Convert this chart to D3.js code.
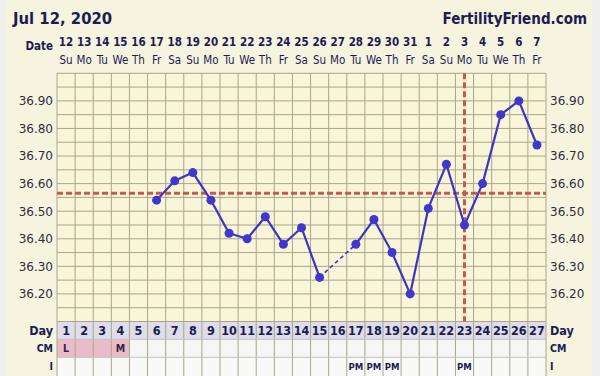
<!DOCTYPE html>
<html><head><meta charset="utf-8">
<script src="https://cdn.jsdelivr.net/npm/d3@7"></script>
<style>
html,body{margin:0;padding:0;background:#eeeeee;}
svg{display:block;}
</style></head>
<body>
<svg id="c" width="600" height="376"></svg>
<script>
const title = "Jul 12, 2020";
const brand = "FertilityFriend.com";
const dates = [12,13,14,15,16,17,18,19,20,21,22,23,24,25,26,27,28,29,30,31,1,2,3,4,5,6,7];
const dows = ["Su","Mo","Tu","We","Th","Fr","Sa","Su","Mo","Tu","We","Th","Fr","Sa","Su","Mo","Tu","We","Th","Fr","Sa","Su","Mo","Tu","We","Th","Fr"];
const cycleDays = d3.range(1, 28);
const temps = [null,null,null,null,null,36.54,36.61,36.64,36.54,36.42,36.40,36.48,36.38,36.44,36.26,null,36.38,36.47,36.35,36.20,36.51,36.67,36.45,36.60,36.85,36.90,36.74];
const cmValues = ["L","","","M","","","","","","","","","","","","","","","","","","","","","","",""];
const menstruation = [1,1,1,1,0,0,0,0,0,0,0,0,0,0,0,0,0,0,0,0,0,0,0,0,0,0,0];
const intercourse = ["","","","","","","","","","","","","","","","","PM","PM","PM","","","","PM","","","",""];
const yTicks = [36.20,36.30,36.40,36.50,36.60,36.70,36.80,36.90];
const yDomain = [36.10, 37.00];
const coverline = 36.565;
const ovulationDay = 23;

const svg = d3.select("#c");
const W = 600, H = 376;
const gx0 = 57, gx1 = 546, gy0 = 73.3, gy1 = 321.5;
const dayRowH = 17.8, cmRowH = 18;
const navy = "#1c1c55";
const gridColor = "#a8a68c";
const fontC = "'DejaVu Sans Condensed','DejaVu Sans',sans-serif";
const font = "'DejaVu Sans',sans-serif";

const x = d3.scaleBand().domain(cycleDays).range([gx0, gx1]).paddingInner(0).paddingOuter(0);
const y = d3.scaleLinear().domain(yDomain).range([gy1, gy0]);
const cx = d => x(d) + x.bandwidth()/2;

// background
svg.append("rect").attr("x",5).attr("y",0).attr("width",587).attr("height",H).attr("fill","#f6f3de");
svg.append("rect").attr("x",gx0).attr("y",gy0).attr("width",gx1-gx0).attr("height",gy1-gy0).attr("fill","#f8f5d8");

// bottom rows
const dayY0 = gy1, cmY0 = gy1 + dayRowH, iY0 = cmY0 + cmRowH;
svg.append("rect").attr("x",gx0).attr("y",dayY0).attr("width",gx1-gx0).attr("height",dayRowH).attr("fill","#dedde8");
svg.append("rect").attr("x",gx0).attr("y",cmY0).attr("width",gx1-gx0).attr("height",cmRowH).attr("fill","#f6f6f4");
svg.append("rect").attr("x",gx0).attr("y",iY0).attr("width",gx1-gx0).attr("height",H-iY0).attr("fill","#f9f9f7");
svg.selectAll(".mens").data(cycleDays.filter((d,i)=>menstruation[i])).enter().append("rect")
  .attr("x",d=>x(d)).attr("y",cmY0).attr("width",x.bandwidth()).attr("height",cmRowH).attr("fill","#e9bcc8");

// grid
const hLines = d3.range(36.10, 37.0001, 0.05);
svg.append("g").selectAll("line").data(hLines).enter().append("line")
  .attr("x1",gx0).attr("x2",gx1).attr("y1",d=>y(d)).attr("y2",d=>y(d))
  .attr("stroke",gridColor).attr("stroke-width",1);
svg.append("g").selectAll("line").data(d3.range(0,28)).enter().append("line")
  .attr("x1",i=>gx0+i*x.bandwidth()).attr("x2",i=>gx0+i*x.bandwidth())
  .attr("y1",gy0).attr("y2",H)
  .attr("stroke",gridColor).attr("stroke-width",1);
[cmY0, iY0].forEach(yy=>svg.append("line").attr("x1",gx0).attr("x2",gx1).attr("y1",yy).attr("y2",yy).attr("stroke","#c4c4c4"));

// header
svg.append("text").attr("x",13).attr("y",24).text(title)
  .attr("font-family",fontC).attr("font-weight","bold").attr("font-size",16.5).attr("fill",navy);
svg.append("text").attr("x",587).attr("y",24).attr("text-anchor","end").text(brand)
  .attr("font-family",fontC).attr("font-weight","bold").attr("font-size",15).attr("fill",navy);

// date rows
svg.append("text").attr("x",53).attr("y",50).attr("text-anchor","end").text("Date")
  .attr("font-family",fontC).attr("font-weight","bold").attr("font-size",11.5).attr("fill",navy);
svg.append("g").selectAll("text").data(cycleDays).enter().append("text")
  .attr("x",d=>cx(d)).attr("y",46).attr("text-anchor","middle").text((d,i)=>dates[i])
  .attr("font-family",fontC).attr("font-weight","bold").attr("font-size",11.5).attr("fill",navy);
svg.append("g").selectAll("text").data(cycleDays).enter().append("text")
  .attr("x",d=>cx(d)).attr("y",64).attr("text-anchor","middle").text((d,i)=>dows[i])
  .attr("font-family",fontC).attr("font-size",11.5).attr("fill",navy);

// y axes
const yAxisL = d3.axisLeft(y).tickValues(yTicks).tickFormat(d3.format(".2f")).tickSize(0).tickPadding(0);
const gL = svg.append("g").attr("transform",`translate(${gx0-4},0)`).call(yAxisL);
const yAxisR = d3.axisRight(y).tickValues(yTicks).tickFormat(d3.format(".2f")).tickSize(0).tickPadding(0);
const gR = svg.append("g").attr("transform",`translate(${gx1+4},0)`).call(yAxisR);
[gL,gR].forEach(g=>{
  g.select(".domain").remove();
  g.selectAll("text").attr("font-family",font).attr("font-size",12).attr("fill","#2e2e40");
});

// bottom row labels
const rowLabels = [["Day",dayY0+dayRowH/2],["CM",cmY0+cmRowH/2],["I",iY0+9]];
rowLabels.forEach(([t,yy])=>{
  svg.append("text").attr("x",53).attr("y",yy).attr("dy","0.36em").attr("text-anchor","end").text(t)
    .attr("font-family",fontC).attr("font-weight","bold").attr("font-size",t==="Day"?12.5:10.5).attr("fill",navy);
  svg.append("text").attr("x",550).attr("y",yy).attr("dy","0.36em").text(t)
    .attr("font-family",fontC).attr("font-weight","bold").attr("font-size",t==="Day"?12.5:10.5).attr("fill",navy);
});
svg.append("g").selectAll("text").data(cycleDays).enter().append("text")
  .attr("x",d=>cx(d)).attr("y",dayY0+dayRowH/2).attr("dy","0.36em").attr("text-anchor","middle").text(d=>d)
  .attr("font-family",fontC).attr("font-weight","bold").attr("font-size",12.5).attr("fill",navy);
svg.append("g").selectAll("text").data(cycleDays).enter().append("text")
  .attr("x",d=>cx(d)).attr("y",cmY0+cmRowH/2).attr("dy","0.36em").attr("text-anchor","middle").text((d,i)=>cmValues[i])
  .attr("font-family",fontC).attr("font-weight","bold").attr("font-size",10.5).attr("fill","#3a2050");
svg.append("g").selectAll("text").data(cycleDays).enter().append("text")
  .attr("x",d=>cx(d)).attr("y",iY0+9).attr("dy","0.36em").attr("text-anchor","middle").text((d,i)=>intercourse[i])
  .attr("font-family",fontC).attr("font-weight","bold").attr("font-size",9.5).attr("fill",navy);

// coverline & ovulation line
const red = "#c95a4a";
svg.append("line").attr("x1",gx0).attr("x2",gx1).attr("y1",y(coverline)).attr("y2",y(coverline))
  .attr("stroke",red).attr("stroke-width",3).attr("stroke-dasharray","6,3");
svg.append("line").attr("x1",cx(ovulationDay)).attr("x2",cx(ovulationDay)).attr("y1",gy0).attr("y2",gy1)
  .attr("stroke",red).attr("stroke-width",3).attr("stroke-dasharray","6,3");

// temperature line
const pts = cycleDays.map((d,i)=>({d, t: temps[i]}));
const blue = "#3e34c2";
const line = d3.line().defined(p=>p.t!==null).x(p=>cx(p.d)).y(p=>y(p.t));
svg.append("path").datum(pts).attr("d",line).attr("fill","none").attr("stroke",blue).attr("stroke-width",2.2).attr("stroke-linejoin","round");
// dashed bridges over missing days
const valid = pts.filter(p=>p.t!==null);
const bridges = [];
for (let i=1;i<valid.length;i++){ if (valid[i].d - valid[i-1].d > 1) bridges.push([valid[i-1], valid[i]]); }
svg.append("g").selectAll("path").data(bridges).enter().append("path")
  .attr("d",b=>d3.line().x(p=>cx(p.d)).y(p=>y(p.t))(b))
  .attr("fill","none").attr("stroke",blue).attr("stroke-width",1.6).attr("stroke-dasharray","4,3");
svg.append("g").selectAll("circle").data(valid).enter().append("circle")
  .attr("cx",p=>cx(p.d)).attr("cy",p=>y(p.t)).attr("r",4.5).attr("fill","#4237cc");
</script>
</body></html>
